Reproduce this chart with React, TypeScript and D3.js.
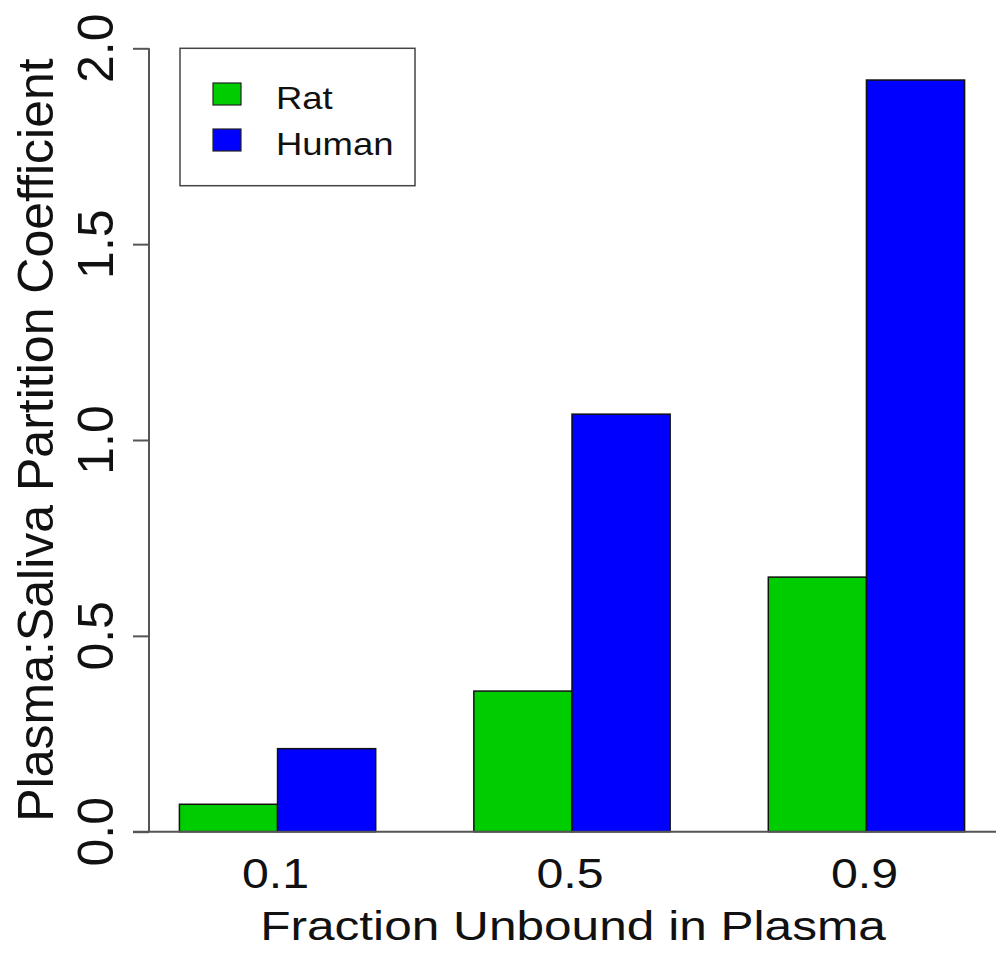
import React, { useEffect, useRef } from "react";
import * as d3 from "d3";

const categories = ["0.1", "0.5", "0.9"];
const seriesNames = ["Rat", "Human"];
const ratValues = [0.07, 0.359, 0.65];
const humanValues = [0.212, 1.066, 1.919];
const seriesColors = ["#00CD00", "#0000FF"];
const yTicks = [0, 0.5, 1.0, 1.5, 2.0];
const xTitle = "Fraction Unbound in Plasma";
const yTitle = "Plasma:Saliva Partition Coefficient";

const FONT = "'Liberation Sans', Arial, Helvetica, sans-serif";

export default function App() {
  const ref = useRef<SVGSVGElement | null>(null);

  useEffect(() => {
    const svg = d3.select(ref.current);
    svg.selectAll("*").remove();

    const W = 1000, H = 957;
    const plotLeft = 148, plotRight = 996;
    const series = [ratValues, humanValues];

    // R-style barplot units: each group = 1 space + 2 bars
    const nGroups = categories.length;
    const nSeries = series.length;
    const unitsMax = nGroups * (nSeries + 1);
    const xMin = 1 - 0.04 * (unitsMax - 1);
    const xMax = unitsMax + 0.04 * (unitsMax - 1);
    const x = d3.scaleLinear().domain([xMin, xMax]).range([plotLeft, plotRight]);
    const y = d3.scaleLinear().domain([0, 2]).range([831.7, 48.3]);

    svg.append("rect").attr("width", W).attr("height", H).attr("fill", "#fff");

    // Bars
    categories.forEach((c, gi) => {
      series.forEach((vals, si) => {
        const u0 = gi * (nSeries + 1) + 1 + si;
        svg
          .append("rect")
          .attr("x", x(u0))
          .attr("y", y(vals[gi]))
          .attr("width", x(u0 + 1) - x(u0))
          .attr("height", y(0) - y(vals[gi]))
          .attr("fill", seriesColors[si])
          .attr("stroke", "#111")
          .attr("stroke-width", 1.5);
      });
    });

    // Baseline
    svg
      .append("line")
      .attr("x1", 133)
      .attr("x2", plotRight)
      .attr("y1", y(0))
      .attr("y2", y(0))
      .attr("stroke", "#555")
      .attr("stroke-width", 2);

    // Y axis
    const axisG = svg.append("g").attr("transform", `translate(${149},0)`);
    const yAxis = d3
      .axisLeft(y)
      .tickValues(yTicks)
      .tickSize(16)
      .tickPadding(0)
      .tickFormat(() => "");
    axisG.call(yAxis as any);
    axisG.select(".domain").attr("d", `M0,${y(2)}V${y(0)}`).attr("stroke", "#555").attr("stroke-width", 2);
    axisG.selectAll(".tick line").attr("stroke", "#555").attr("stroke-width", 2);

    // Y tick labels (rotated)
    yTicks.forEach((t) => {
      svg
        .append("text")
        .attr("transform", `translate(113,${y(t)}) rotate(-90)`)
        .attr("text-anchor", "middle")
        .attr("font-family", FONT)
        .attr("font-size", 50)
        .attr("fill", "#111")
        .text(d3.format(".1f")(t));
    });

    // X tick labels
    categories.forEach((c, gi) => {
      const center = x(gi * (nSeries + 1) + 1 + nSeries / 2);
      svg
        .append("text")
        .attr("transform", `translate(${center - 2},888) scale(1.15,1)`)
        .attr("text-anchor", "middle")
        .attr("font-family", FONT)
        .attr("font-size", 42)
        .attr("fill", "#111")
        .text(c);
    });

    // X title
    svg
      .append("text")
      .attr("transform", `translate(${(plotLeft + plotRight) / 2 + 1},940) scale(1.24,1)`)
      .attr("text-anchor", "middle")
      .attr("font-family", FONT)
      .attr("font-size", 40)
      .attr("fill", "#111")
      .text(xTitle);

    // Y title
    svg
      .append("text")
      .attr("transform", `translate(53,440) rotate(-90)`)
      .attr("text-anchor", "middle")
      .attr("font-family", FONT)
      .attr("font-size", 50)
      .attr("fill", "#111")
      .text(yTitle);

    // Legend
    const lg = svg.append("g");
    lg.append("rect")
      .attr("x", 180)
      .attr("y", 48.3)
      .attr("width", 235)
      .attr("height", 137.4)
      .attr("fill", "#fff")
      .attr("stroke", "#444")
      .attr("stroke-width", 1.5);
    seriesNames.forEach((name, i) => {
      const top = 83 + i * 46;
      lg.append("rect")
        .attr("x", 213)
        .attr("y", top)
        .attr("width", 28)
        .attr("height", 22)
        .attr("fill", seriesColors[i])
        .attr("stroke", "#222")
        .attr("stroke-width", 1.2);
      lg.append("text")
        .attr("transform", `translate(276,${top + 26}) scale(1.14,1)`)
        .attr("font-family", FONT)
        .attr("font-size", 32)
        .attr("fill", "#111")
        .text(name);
    });
  }, []);

  return (
    <svg
      ref={ref}
      width={1000}
      height={957}
      style={{ position: "absolute", left: 0, top: 0, display: "block" }}
    />
  );
}
